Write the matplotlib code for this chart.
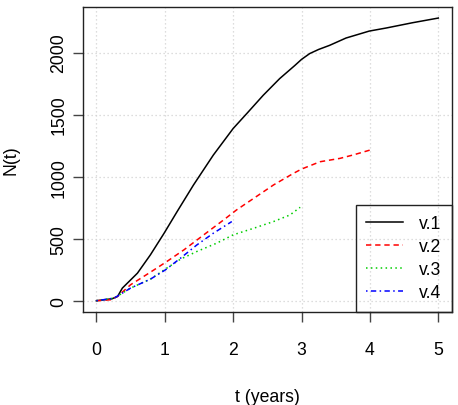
import matplotlib

matplotlib.use("Agg")
import matplotlib.pyplot as plt  # noqa: E402

plt.rcParams["font.family"] = ["Liberation Sans", "DejaVu Sans"]

# counting-process curves, t in years
t1 = [0, 0.23, 0.31, 0.38, 0.60, 0.79, 0.99, 1.18, 1.42, 1.71, 2.00, 2.20,
      2.44, 2.68, 2.90, 3.00, 3.12, 3.25, 3.41, 3.65, 3.99, 4.24, 4.62, 5.00]
n1 = [0, 16, 35, 102, 222, 370, 544, 718, 933, 1174, 1388, 1509,
      1656, 1790, 1895, 1945, 1992, 2025, 2058, 2117, 2173, 2198, 2240, 2278]

t2 = [0, 0.21, 0.31, 0.50, 0.79, 1.03, 1.28, 1.57, 1.86, 2.05, 2.30, 2.59,
      2.88, 3.00, 3.27, 3.56, 3.75, 4.00]
n2 = [0, 8, 35, 129, 230, 316, 410, 531, 651, 732, 825, 933,
      1026, 1061, 1120, 1147, 1174, 1214]

t3 = [0, 0.26, 0.50, 0.79, 1.03, 1.23, 1.47, 1.76, 2.00, 2.30, 2.59, 2.83, 2.98]
n3 = [0, 21, 102, 174, 263, 335, 397, 464, 531, 584, 638, 691, 753]

t4 = [0, 0.26, 0.50, 0.79, 1.01, 1.23, 1.47, 1.71, 1.98]
n4 = [0, 21, 102, 174, 249, 343, 450, 544, 638]

labels = ["v.1", "v.2", "v.3", "v.4"]
x_ticks = [0, 1, 2, 3, 4, 5]
y_ticks = [0, 500, 1000, 1500, 2000]

FS = 12.7

fig = plt.figure(figsize=(4.58, 4.06), dpi=100)
ax = fig.add_axes([0.1806, 0.229, 0.9869 - 0.1806, 0.9815 - 0.229])

ax.set_xlim(-0.2, 5.2)
ax.set_ylim(-91, 2371)
ax.set_xticks(x_ticks)
ax.set_yticks(y_ticks)
ax.grid(True, color="#d3d3d3", linestyle=(0, (1, 2.2)), linewidth=0.9)
ax.set_axisbelow(True)

ax.plot(t1, n1, color="black", linewidth=1.1, label=labels[0])
ax.plot(t2, n2, color="#ff0000", linewidth=1.1, linestyle=(0, (3.5, 2.5)), label=labels[1])
ax.plot(t3, n3, color="#00cd00", linewidth=1.1, linestyle=(0, (1, 2.2)), label=labels[2])
ax.plot(t4, n4, color="#0000ff", linewidth=1.1, linestyle=(0, (1, 2.2, 3.5, 2.2)), label=labels[3])

for sp in ax.spines.values():
    sp.set_linewidth(1.0)
    sp.set_color("#222222")
ax.tick_params(axis="both", length=7.2, width=1.0, color="#444444", labelsize=FS)
ax.tick_params(axis="x", pad=14)
ax.tick_params(axis="y", labelrotation=90, pad=4)
for lab in ax.get_yticklabels():
    lab.set_va("center")

ax.set_xlabel("t (years)", fontsize=FS, labelpad=21)
ax.set_ylabel("N(t)", fontsize=FS, labelpad=22)

leg = ax.legend(loc="lower right", bbox_to_anchor=(1, 0), borderaxespad=0,
                fontsize=FS, fancybox=False, edgecolor="#222222", facecolor="none",
                framealpha=1, handlelength=2.1, handletextpad=0.9,
                labelspacing=0.34, borderpad=0.6)
leg.get_frame().set_linewidth(1.0)

fig.savefig("out.png", dpi=100)
